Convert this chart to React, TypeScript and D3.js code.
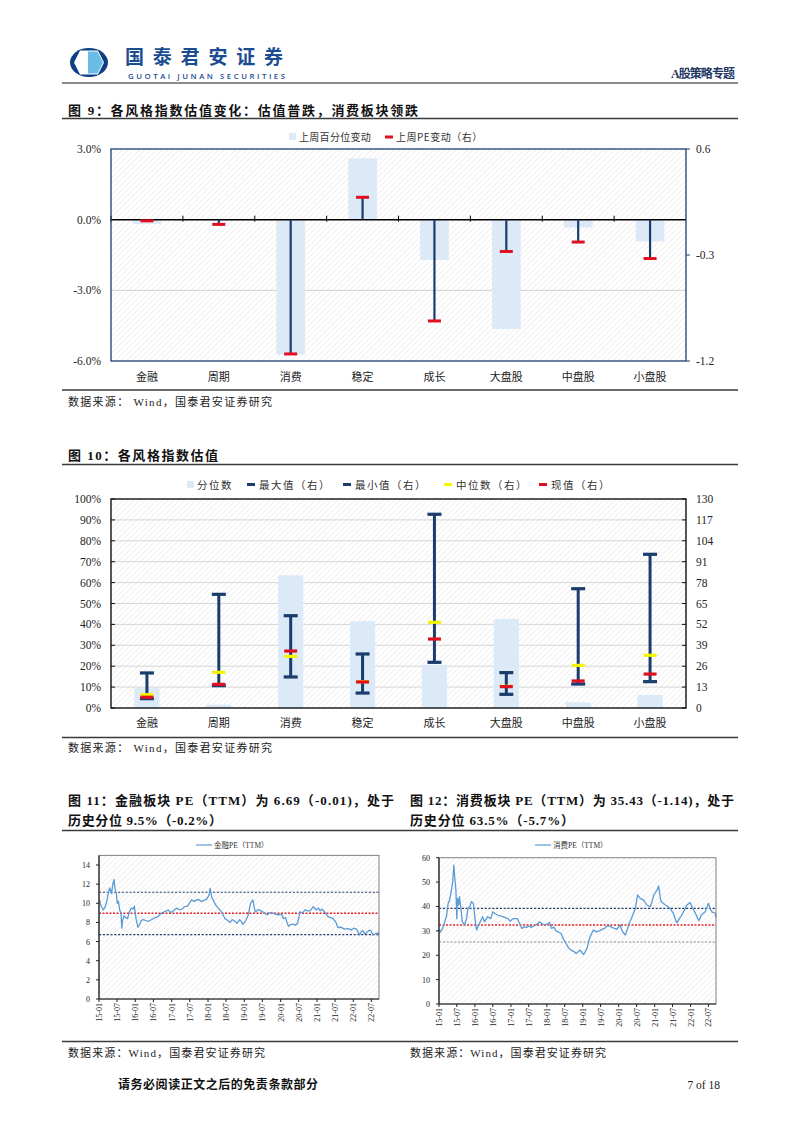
import React from 'react';
import * as d3 from 'd3';

// ---------- DATA ----------
const CATS = ['金融', '周期', '消费', '稳定', '成长', '大盘股', '中盘股', '小盘股'];

// Fig 9
const PCT_CHG = [-0.18, -0.05, -5.73, 2.6, -1.71, -4.64, -0.33, -0.92];
const PE_CHG = [-0.01, -0.04, -1.14, 0.19, -0.86, -0.27, -0.19, -0.33];
const F9_LEFT_TICKS = [-6, -3, 0, 3];
const F9_RIGHT_TICKS = [-1.2, -0.3, 0.6];

// Fig 10
const PCTILE = [9.5, 1.6, 63.5, 41.5, 20.7, 42.6, 2.7, 6.2];
const PE_MAX = [21.8, 70.7, 57.4, 33.6, 120.5, 22.0, 74.2, 95.6];
const PE_MIN = [5.8, 13.9, 19.3, 9.3, 28.4, 8.5, 14.9, 16.4];
const PE_MED = [8.3, 22.2, 32.1, 16.4, 53.3, 13.5, 26.5, 32.8];
const PE_NOW = [6.69, 14.7, 35.43, 16.2, 42.9, 13.3, 16.8, 21.1];
const F10_LEFT_TICKS = [0, 10, 20, 30, 40, 50, 60, 70, 80, 90, 100];
const F10_RIGHT_TICKS = [0, 13, 26, 39, 52, 65, 78, 91, 104, 117, 130];

// Fig 11
const FIN_DATES = ['2015-01-05','2015-01-20','2015-02-13','2015-03-02','2015-03-18','2015-04-08','2015-04-20','2015-05-07','2015-05-20','2015-06-01','2015-06-10','2015-06-16','2015-06-25','2015-07-03','2015-07-15','2015-07-28','2015-08-10','2015-08-18','2015-08-26','2015-09-10','2015-09-25','2015-10-15','2015-11-02','2015-11-20','2015-12-10','2015-12-22','2016-01-08','2016-01-27','2016-02-15','2016-03-01','2016-03-20','2016-04-15','2016-05-10','2016-06-15','2016-07-20','2016-08-15','2016-09-22','2016-10-20','2016-11-28','2016-12-20','2017-01-15','2017-02-19','2017-03-20','2017-04-15','2017-05-10','2017-06-10','2017-07-19','2017-08-15','2017-09-20','2017-10-28','2017-11-20','2017-12-16','2018-01-10','2018-01-22','2018-02-08','2018-02-22','2018-03-20','2018-04-13','2018-05-10','2018-06-01','2018-06-20','2018-07-05','2018-08-10','2018-09-01','2018-10-01','2018-10-20','2018-11-15','2018-12-01','2018-12-19','2019-01-15','2019-02-10','2019-03-04','2019-03-28','2019-04-10','2019-04-22','2019-05-15','2019-06-04','2019-07-05','2019-07-25','2019-08-20','2019-09-15','2019-10-10','2019-11-10','2019-12-07','2020-01-10','2020-01-28','2020-02-20','2020-03-05','2020-03-20','2020-04-15','2020-05-07','2020-05-25','2020-06-19','2020-07-06','2020-07-13','2020-08-10','2020-09-01','2020-10-01','2020-10-22','2020-11-25','2020-12-20','2021-01-15','2021-02-01','2021-02-20','2021-03-10','2021-04-22','2021-05-20','2021-06-13','2021-07-10','2021-08-01','2021-08-25','2021-09-15','2021-10-07','2021-11-10','2021-12-13','2022-01-05','2022-02-01','2022-03-04','2022-03-20','2022-04-07','2022-04-25','2022-05-10','2022-06-13','2022-06-28','2022-07-16','2022-08-10','2022-09-07','2022-09-16'];
const FIN_PE = [10.4,9.8,9.3,9.6,10.1,11.2,11.6,11.0,12.0,12.5,11.6,11.3,11.0,10.0,10.2,9.3,9.0,7.4,8.2,8.7,8.5,8.4,9.1,9.5,9.4,9.7,8.4,7.5,7.8,8.2,8.3,8.2,8.1,8.3,8.5,8.6,9.0,9.1,9.3,9.0,9.2,9.5,9.3,9.4,9.65,9.7,10.35,10.2,10.4,10.2,10.3,10.4,10.8,11.55,10.6,10.35,9.8,9.5,9.2,8.8,8.4,8.3,8.0,8.3,8.1,7.9,8.3,8.1,7.8,8.2,8.8,10.0,10.35,9.6,9.1,9.3,9.3,9.1,8.95,8.8,9.0,9.0,8.85,8.8,8.9,8.4,8.5,8.0,7.6,7.8,7.8,7.7,7.9,8.7,9.1,9.0,9.3,9.2,9.2,9.65,9.3,9.5,9.2,9.4,9.2,8.6,8.5,8.4,8.0,7.45,7.5,7.4,7.3,7.35,7.2,7.4,7.3,6.7,7.0,7.15,6.8,6.9,7.2,7.1,6.7,6.8,6.9,6.69];
const FIN_REF = [11.15, 8.95, 6.72];
const FIN_TICKS = [0, 2, 4, 6, 8, 10, 12, 14];

// Fig 12
const CONS_DATES = ['2015-01-05','2015-01-16','2015-02-07','2015-03-01','2015-03-20','2015-04-04','2015-04-19','2015-05-07','2015-05-20','2015-06-01','2015-06-10','2015-06-22','2015-07-01','2015-07-09','2015-07-20','2015-07-28','2015-08-15','2015-08-26','2015-09-19','2015-10-10','2015-10-22','2015-11-10','2015-11-25','2015-12-16','2016-01-04','2016-01-19','2016-02-16','2016-03-19','2016-04-07','2016-05-10','2016-06-10','2016-07-01','2016-07-25','2016-08-22','2016-09-20','2016-10-13','2016-11-10','2016-12-01','2016-12-25','2017-01-22','2017-03-07','2017-03-25','2017-04-22','2017-05-20','2017-06-07','2017-07-05','2017-07-25','2017-08-20','2017-09-16','2017-10-19','2017-11-15','2017-12-10','2018-01-13','2018-01-28','2018-02-16','2018-03-15','2018-04-04','2018-05-01','2018-05-25','2018-06-20','2018-07-16','2018-08-10','2018-09-04','2018-10-05','2018-10-25','2018-11-16','2018-12-07','2018-12-25','2019-01-10','2019-02-13','2019-03-05','2019-03-16','2019-04-19','2019-05-22','2019-06-20','2019-07-13','2019-08-10','2019-09-01','2019-10-05','2019-10-22','2019-11-20','2019-12-13','2020-01-16','2020-02-05','2020-03-07','2020-03-25','2020-04-10','2020-05-16','2020-06-19','2020-07-10','2020-08-07','2020-09-10','2020-10-13','2020-11-16','2020-12-05','2020-12-22','2021-01-25','2021-02-10','2021-02-25','2021-03-07','2021-04-19','2021-05-15','2021-06-07','2021-07-10','2021-07-28','2021-08-13','2021-09-10','2021-10-04','2021-11-05','2021-11-25','2021-12-28','2022-01-20','2022-02-19','2022-03-15','2022-03-28','2022-04-19','2022-05-28','2022-06-15','2022-07-01','2022-07-20','2022-08-04','2022-08-25','2022-09-07','2022-09-16'];
const CONS_PE = [30.3,29.5,31.0,33.7,36.5,41.3,42.6,46.7,50.0,56.9,52.0,46.7,35.0,43.3,40.6,44.0,38.0,33.7,32.4,35.5,39.2,40.0,42.0,41.3,34.4,30.3,33.0,35.8,33.7,35.8,35.0,37.8,37.0,36.4,36.0,35.8,35.3,35.0,34.0,35.0,35.0,33.5,31.0,31.6,31.4,32.0,31.4,32.0,32.4,33.7,32.8,32.4,33.0,33.5,31.0,31.5,30.0,29.5,28.9,26.5,24.8,23.0,22.1,21.5,20.7,21.4,22.1,21.0,20.3,22.8,26.0,27.6,30.3,29.6,30.0,30.6,31.0,31.9,32.0,31.4,31.0,30.6,32.4,30.0,28.3,30.0,32.4,35.8,39.2,44.7,43.3,42.6,40.6,39.9,42.0,44.7,46.7,48.4,44.0,42.0,40.6,40.0,39.2,37.2,35.0,33.3,35.0,36.5,39.0,40.6,41.6,39.5,37.2,35.0,34.2,36.5,37.8,39.5,41.3,39.0,37.8,37.5,37.4,35.4];
const CONS_REF = [39.2, 32.4, 25.4];
const CONS_TICKS = [0, 10, 20, 30, 40, 50, 60];

const X_START = '2015-01-01';
const X_END = '2022-09-16';

// ---------- STYLE ----------
const SERIF = "'Liberation Serif','Noto Sans CJK SC',serif";
const SANS = "'Noto Sans CJK SC','Noto Sans',sans-serif";
const NAVY = '#1b3d6e';
const LBLUE = '#dceaf7';
const RED = '#e01020';
const TXT = '#222';

const parse = d3.timeParse('%Y-%m-%d');

function Fig9() {
  const x = d3.scaleBand<string>().domain(CATS).range([111, 686]);
  const yL = d3.scaleLinear().domain([-6, 3]).range([361, 149]);
  const yR = d3.scaleLinear().domain([-1.2, 0.6]).range([361, 149]);
  const bw = x.bandwidth() * 0.4;
  const z = yL(0);
  return (
    <g>
      <rect x={111} y={149} width={575} height={212} fill="url(#hatch)" />
      <line x1={111} x2={686} y1={yL(-3)} y2={yL(-3)} stroke="#d0d0d0" strokeWidth={1} />
      {CATS.map((c, i) => {
        const v = PCT_CHG[i];
        const cx = (x(c) as number) + x.bandwidth() / 2;
        return <rect key={c} x={cx - bw / 2} y={yL(Math.max(0, v))} width={bw} height={Math.abs(yL(v) - yL(0))} fill={LBLUE} />;
      })}
      <line x1={111} x2={686} y1={z} y2={z} stroke="#000" strokeWidth={1.5} />
      {CATS.map((c, i) => (
        <line key={'t' + i} x1={x(c) as number} x2={x(c) as number} y1={z - 4} y2={z + 2} stroke="#000" strokeWidth={1} />
      ))}
      {CATS.map((c, i) => {
        const cx = (x(c) as number) + x.bandwidth() / 2;
        return (
          <g key={'e' + c}>
            <line x1={cx} x2={cx} y1={yR(0)} y2={yR(PE_CHG[i])} stroke={NAVY} strokeWidth={2.2} />
            <rect x={cx - 6.5} y={yR(PE_CHG[i]) - 1.5} width={13} height={3} fill={RED} />
          </g>
        );
      })}
      <rect x={111} y={149} width={575} height={212} fill="none" stroke={NAVY} strokeWidth={1.3} />
      {F9_LEFT_TICKS.map((t) => (
        <text key={'l' + t} x={101} y={yL(t) + 4} textAnchor="end" fontFamily={SERIF} fontSize={11.5} fill={TXT}>{t.toFixed(1) + '%'}</text>
      ))}
      {F9_RIGHT_TICKS.map((t) => (
        <g key={'r' + t}>
          <line x1={686} x2={690} y1={yR(t)} y2={yR(t)} stroke={NAVY} />
          <text x={696} y={yR(t) + 4} fontFamily={SERIF} fontSize={11.5} fill={TXT}>{t.toFixed(1)}</text>
        </g>
      ))}
      {CATS.map((c) => (
        <text key={'c' + c} x={(x(c) as number) + x.bandwidth() / 2} y={381} textAnchor="middle" fontFamily={SANS} fontSize={11} fill={TXT}>{c}</text>
      ))}
      {/* legend */}
      <rect x={289} y={133} width={7} height={7} fill={LBLUE} />
      <text x={299} y={140.5} fontFamily={SANS} fontSize={10} fill="#333" letterSpacing={0.3}>上周百分位变动</text>
      <rect x={385} y={135.5} width={8} height={3} fill={RED} />
      <text x={396} y={140.5} fontFamily={SANS} fontSize={10} fill="#333" letterSpacing={0.5}>上周PE变动（右）</text>
    </g>
  );
}

function Fig10() {
  const x = d3.scaleBand<string>().domain(CATS).range([111, 686]);
  const yL = d3.scaleLinear().domain([0, 100]).range([708, 499]);
  const yR = d3.scaleLinear().domain([0, 130]).range([708, 499]);
  const bw = x.bandwidth() * 0.35;
  const cap = (cx: number, v: number, col: string, w: number) => (
    <rect x={cx - w / 2} y={yR(v) - 1.6} width={w} height={3.2} fill={col} />
  );
  return (
    <g>
      <rect x={111} y={499} width={575} height={209} fill="url(#hatch)" />
      {F10_LEFT_TICKS.slice(1, -1).map((t) => (
        <line key={'g' + t} x1={111} x2={686} y1={yL(t)} y2={yL(t)} stroke="#d6d6d6" strokeWidth={1} />
      ))}
      {CATS.map((c, i) => {
        const cx = (x(c) as number) + x.bandwidth() / 2;
        return <rect key={c} x={cx - bw / 2} y={yL(PCTILE[i])} width={bw} height={yL(0) - yL(PCTILE[i])} fill={LBLUE} />;
      })}
      {CATS.map((c, i) => {
        const cx = (x(c) as number) + x.bandwidth() / 2;
        return (
          <g key={'e' + c}>
            <line x1={cx} x2={cx} y1={yR(PE_MIN[i])} y2={yR(PE_MAX[i])} stroke={NAVY} strokeWidth={3} />
            {cap(cx, PE_MAX[i], NAVY, 14)}
            {cap(cx, PE_MIN[i], NAVY, 14)}
            {cap(cx, PE_MED[i], '#f5f500', 13)}
            {cap(cx, PE_NOW[i], RED, 13)}
          </g>
        );
      })}
      <rect x={111} y={499} width={575} height={209} fill="none" stroke="#111" strokeWidth={1.4} />
      {F10_LEFT_TICKS.map((t) => (
        <g key={'l' + t}>
          <line x1={111} x2={115} y1={yL(t)} y2={yL(t)} stroke="#111" />
          <text x={101} y={yL(t) + 4} textAnchor="end" fontFamily={SERIF} fontSize={11.5} fill={TXT}>{t + '%'}</text>
        </g>
      ))}
      {F10_RIGHT_TICKS.map((t) => (
        <g key={'r' + t}>
          <line x1={682} x2={686} y1={yR(t)} y2={yR(t)} stroke="#111" />
          <text x={696} y={yR(t) + 4} fontFamily={SERIF} fontSize={11.5} fill={TXT}>{t}</text>
        </g>
      ))}
      {CATS.map((c) => (
        <text key={'c' + c} x={(x(c) as number) + x.bandwidth() / 2} y={727} textAnchor="middle" fontFamily={SANS} fontSize={11} fill={TXT}>{c}</text>
      ))}
      {/* legend */}
      <rect x={187} y={481} width={7} height={7} fill={LBLUE} />
      <text x={197} y={489} fontFamily={SANS} fontSize={10.5} fill="#333" letterSpacing={1.5}>分位数</text>
      <rect x={247} y={483} width={8} height={3} fill={NAVY} />
      <text x={259} y={489} fontFamily={SANS} fontSize={10.5} fill="#333" letterSpacing={1.5}>最大值（右）</text>
      <rect x={343} y={483} width={8} height={3} fill={NAVY} />
      <text x={355} y={489} fontFamily={SANS} fontSize={10.5} fill="#333" letterSpacing={1.5}>最小值（右）</text>
      <rect x={444} y={483} width={8} height={3} fill="#f5f500" />
      <text x={456} y={489} fontFamily={SANS} fontSize={10.5} fill="#333" letterSpacing={1.5}>中位数（右）</text>
      <rect x={539} y={483} width={8} height={3} fill={RED} />
      <text x={551} y={489} fontFamily={SANS} fontSize={10.5} fill="#333" letterSpacing={1.5}>现值（右）</text>
    </g>
  );
}

function LineFig(props: {
  left: number; right: number; top: number; bottom: number; max: number;
  dates: string[]; values: number[]; refs: number[]; ticks: number[]; legend: string; lowColor: string;
  legendX: number;
}) {
  const { left, right, top, bottom, max, dates, values, refs, ticks, legend, lowColor, legendX } = props;
  const x = d3.scaleTime().domain([parse(X_START) as Date, parse(X_END) as Date]).range([left, right]);
  const y = d3.scaleLinear().domain([0, max]).range([bottom, top]);
  const pts = dates.map((d, i) => [parse(d) as Date, values[i]] as [Date, number]);
  const line = d3.line<[Date, number]>().x((d) => x(d[0])).y((d) => y(d[1]));
  const xt = d3.timeMonth.every(6)!.range(parse('2015-01-01') as Date, parse('2022-08-01') as Date);
  const fmt = d3.timeFormat('%y-%m');
  const refColors = ['#2a3f6e', '#e8202a', lowColor];
  return (
    <g>
      <rect x={left} y={top} width={right - left} height={bottom - top} fill="url(#hatch)" />
      {refs.map((r, i) => (
        <line key={'ref' + i} x1={left} x2={right} y1={y(r)} y2={y(r)} stroke={refColors[i]} strokeWidth={i === 1 ? 1.6 : 1.1} strokeDasharray={i === 1 ? '2,1.5' : '2.2,1.6'} />
      ))}
      <path d={line(pts) || ''} fill="none" stroke="#5b9bd5" strokeWidth={1.3} strokeLinejoin="round" />
      <rect x={left} y={top} width={right - left} height={bottom - top} fill="none" stroke="#808080" strokeWidth={1} />
      <line x1={left} x2={right} y1={bottom} y2={bottom} stroke="#222" strokeWidth={1.2} />
      <line x1={left} x2={left} y1={top} y2={bottom} stroke="#222" strokeWidth={1.2} />
      {ticks.map((t) => (
        <g key={'yt' + t}>
          <line x1={left - 3} x2={left} y1={y(t)} y2={y(t)} stroke="#222" />
          <text x={left - 9} y={y(t) + 3} textAnchor="end" fontFamily={SERIF} fontSize={8} fill={TXT}>{t}</text>
        </g>
      ))}
      {xt.map((d, i) => (
        <g key={'xt' + i}>
          <line x1={x(d)} x2={x(d)} y1={bottom} y2={bottom + 3} stroke="#222" />
          <text transform={`translate(${x(d) + 3},${bottom + 4}) rotate(-90)`} textAnchor="end" fontFamily={SERIF} fontSize={8} fill={TXT}>{fmt(d)}</text>
        </g>
      ))}
      <line x1={legendX} x2={legendX + 16} y1={845} y2={845} stroke="#5b9bd5" strokeWidth={1.2} />
      <text x={legendX + 18} y={847.5} fontFamily={SERIF} fontSize={7.5} fill="#333">{legend}</text>
    </g>
  );
}

function Logo() {
  return (
    <g>
      <ellipse cx={89} cy={62.5} rx={19} ry={14.5} fill="#0d3f84" />
      <polygon points="80,50.5 98,50.5 104,62.5 98,74.5 80,74.5 74,62.5" fill="#fff" />
      <polygon points="88,51.5 97.5,51.5 103,62.5 97.5,73.5 88,73.5" fill="#69bde6" />
      <text x={125} y={64} fontFamily={SANS} fontWeight={700} fontSize={19} fill="#1c4c92" textLength={158} lengthAdjust="spacing">国泰君安证券</text>
      <text x={128} y={78.5} fontFamily="'Open Sans','Noto Sans',sans-serif" fontWeight={600} fontSize={7.8} fill="#1c4c92" textLength={157} lengthAdjust="spacing">GUOTAI JUNAN SECURITIES</text>
    </g>
  );
}

export default function App() {
  const ruleCol = '#3a3a3a';
  return (
    <div style={{ position: 'absolute', left: 0, top: 0 }}>
      <svg width={802} height={1133} viewBox="0 0 802 1133" style={{ display: 'block', background: '#fff' }}>
        <defs>
          <pattern id="hatch" width={4} height={4} patternUnits="userSpaceOnUse" patternTransform="rotate(45)">
            <rect width={4} height={4} fill="#fff" />
            <line x1={0} y1={0} x2={0} y2={4} stroke="#ededed" strokeWidth={1.6} />
          </pattern>
        </defs>
        <Logo />
        <text x={735} y={78} textAnchor="end" fontFamily={SERIF} fontWeight={700} fontSize={12} fill="#1f3864" textLength={64} lengthAdjust="spacing">A股策略专题</text>
        <line x1={62} x2={738} y1={83} y2={83} stroke="#8a8a8a" strokeWidth={2} />

        {/* Fig 9 */}
        <text x={68} y={114.5} fontFamily={SERIF} fontWeight={700} fontSize={13} fill="#111" textLength={350} lengthAdjust="spacing">图 9：各风格指数估值变化：估值普跌，消费板块领跌</text>
        <line x1={62} x2={738} y1={118.5} y2={118.5} stroke={ruleCol} strokeWidth={1.5} />
        <Fig9 />
        <line x1={62} x2={738} y1={390} y2={390} stroke={ruleCol} strokeWidth={1.5} />
        <text x={68} y={405.5} fontFamily={SERIF} fontSize={11} fill="#222" textLength={204} lengthAdjust="spacing">数据来源：  Wind，国泰君安证券研究</text>

        {/* Fig 10 */}
        <text x={68} y={459.5} fontFamily={SERIF} fontWeight={700} fontSize={13} fill="#111" textLength={150} lengthAdjust="spacing">图 10：各风格指数估值</text>
        <line x1={62} x2={738} y1={464.5} y2={464.5} stroke={ruleCol} strokeWidth={1.5} />
        <Fig10 />
        <line x1={62} x2={738} y1={737.5} y2={737.5} stroke={ruleCol} strokeWidth={1.5} />
        <text x={68} y={752} fontFamily={SERIF} fontSize={11} fill="#222" textLength={204} lengthAdjust="spacing">数据来源：  Wind，国泰君安证券研究</text>

        {/* Fig 11 / 12 titles */}
        <text x={68} y={805} fontFamily={SERIF} fontWeight={700} fontSize={13} fill="#111" textLength={326} lengthAdjust="spacing">图 11：金融板块 PE（TTM）为 6.69（-0.01)，处于</text>
        <text x={68} y={825} fontFamily={SERIF} fontWeight={700} fontSize={13} fill="#111" textLength={154} lengthAdjust="spacing">历史分位 9.5%（-0.2%）</text>
        <text x={410} y={805} fontFamily={SERIF} fontWeight={700} fontSize={13} fill="#111" textLength={324} lengthAdjust="spacing">图 12：消费板块 PE（TTM）为 35.43（-1.14)，处于</text>
        <text x={410} y={825} fontFamily={SERIF} fontWeight={700} fontSize={13} fill="#111" textLength={164} lengthAdjust="spacing">历史分位 63.5%（-5.7%）</text>
        <line x1={62} x2={738} y1={830.5} y2={830.5} stroke={ruleCol} strokeWidth={1.5} />

        <LineFig left={99} right={379} top={855.4} bottom={999} max={15} dates={FIN_DATES} values={FIN_PE} refs={FIN_REF} ticks={FIN_TICKS} legend="金融PE（TTM）" lowColor="#2a3f6e" legendX={196} />
        <LineFig left={439} right={716} top={857.7} bottom={1004} max={60} dates={CONS_DATES} values={CONS_PE} refs={CONS_REF} ticks={CONS_TICKS} legend="消费PE（TTM）" lowColor="#8c8c8c" legendX={535} />

        <line x1={62} x2={738} y1={1041.5} y2={1041.5} stroke={ruleCol} strokeWidth={1.5} />
        <text x={68} y={1057} fontFamily={SERIF} fontSize={11} fill="#222" textLength={197} lengthAdjust="spacing">数据来源：Wind，国泰君安证券研究</text>
        <text x={410} y={1057} fontFamily={SERIF} fontSize={11} fill="#222" textLength={196} lengthAdjust="spacing">数据来源：Wind，国泰君安证券研究</text>

        <text x={118} y={1089} fontFamily={SERIF} fontWeight={700} fontSize={12} fill="#111" textLength={200} lengthAdjust="spacing">请务必阅读正文之后的免责条款部分</text>
        <text x={720} y={1089} textAnchor="end" fontFamily={SERIF} fontSize={11.5} fill="#222">7 of 18</text>
      </svg>
    </div>
  );
}
